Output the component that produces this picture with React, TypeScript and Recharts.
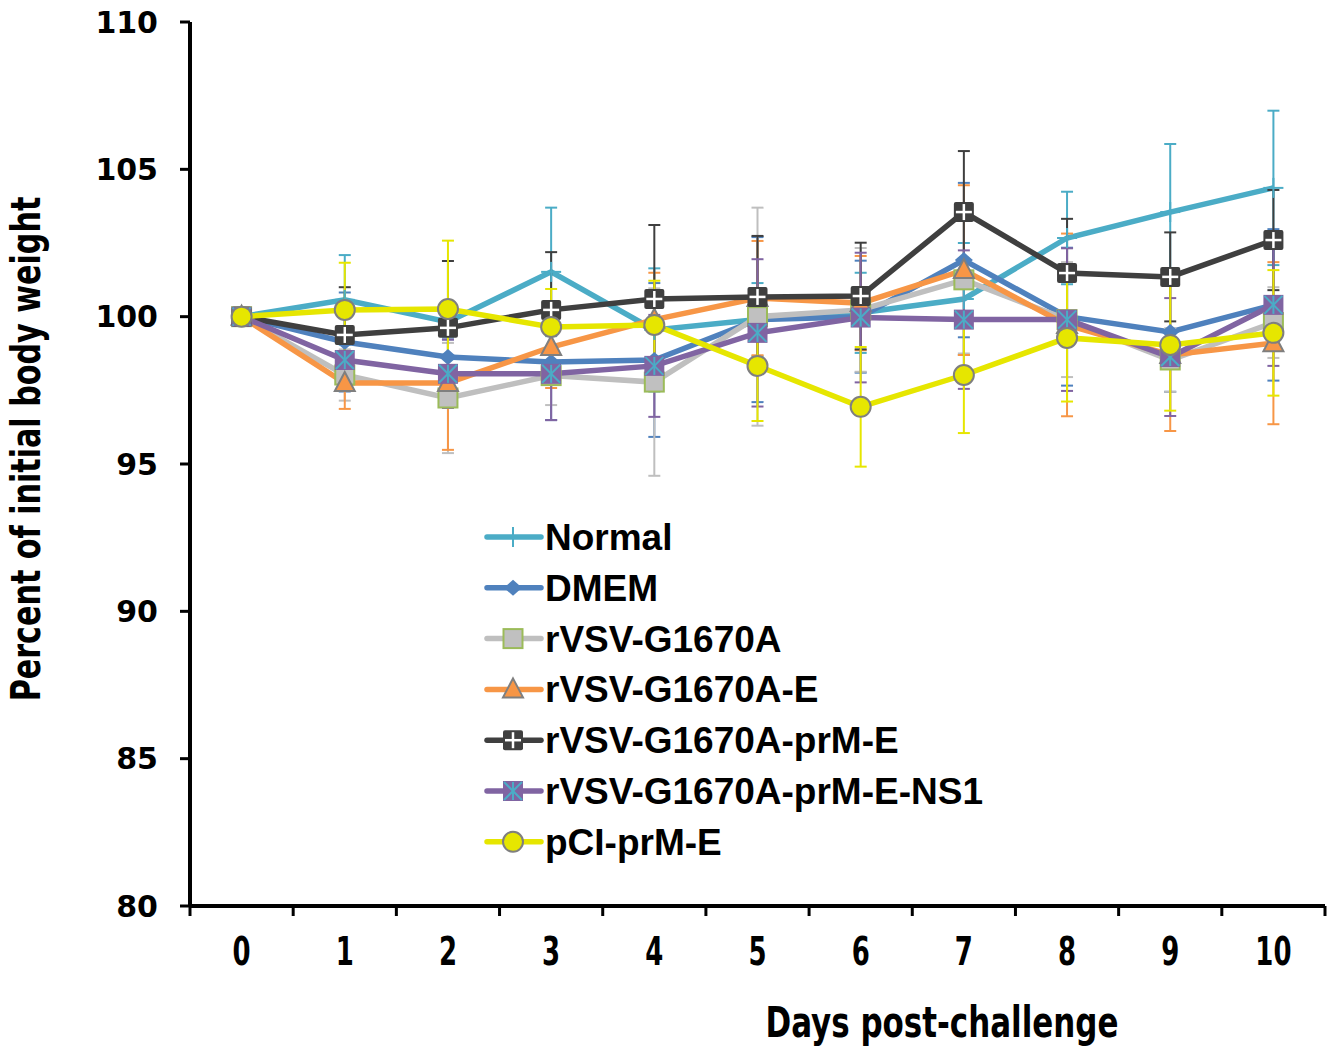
import React from 'react';
import { LineChart, Line, XAxis, YAxis, ErrorBar, Legend } from 'recharts';

const days = [0, 1, 2, 3, 4, 5, 6, 7, 8, 9, 10];
const xTicks = [-0.5, 0, 0.5, 1, 1.5, 2, 2.5, 3, 3.5, 4, 4.5, 5, 5.5, 6, 6.5, 7, 7.5, 8, 8.5, 9, 9.5, 10, 10.5];
const yTicks = [80, 85, 90, 95, 100, 105, 110];

const normal = [100, 100.57, 99.82, 101.52, 99.55, 99.9, 100.13, 100.6, 102.67, 103.55, 104.37];
const normalErr = [0, 1.52, 0.5, 2.18, 2.09, 1.24, 1.36, 1.9, 1.57, 2.31, 2.62];
const dmem = [100, 99.14, 98.63, 98.46, 98.53, 99.9, 100, 101.92, 100, 99.48, 100.4];
const dmemErr = [0, 1.68, 0.6, 1.97, 2.61, 2.8, 1.9, 2.62, 2.34, 2.03, 2.57];
const g1670a = [100, 98.02, 97.24, 98.0, 97.78, 100, 100.23, 101.25, 99.9, 98.53, 99.8];
const g1670aErr = [0, 0.87, 1.87, 1.0, 3.18, 3.7, 2.1, 2.5, 1.95, 1.08, 1.2];
const g1670aE = [100, 97.75, 97.75, 98.97, 99.9, 100.63, 100.46, 101.58, 99.72, 98.7, 99.1];
const g1670aEErr = [0, 0.88, 2.27, 1.39, 1.59, 1.94, 1.6, 2.88, 3.1, 2.58, 2.75];
const g1670aPrmE = [100, 99.38, 99.62, 100.23, 100.6, 100.67, 100.7, 103.55, 101.48, 101.35, 102.6];
const g1670aPrmEErr = [0, 1.62, 2.27, 1.96, 2.51, 2.07, 1.81, 2.07, 1.84, 1.51, 1.7];
const g1670aNs1 = [100, 98.53, 98.06, 98.06, 98.33, 99.45, 99.97, 99.9, 99.9, 98.63, 100.4];
const g1670aNs1Err = [0, 0.6, 1.16, 1.57, 1.73, 2.5, 2.2, 2.35, 2.42, 2.0, 2.07];
const pci = [100, 100.23, 100.26, 99.65, 99.72, 98.33, 96.94, 98.02, 99.28, 99.04, 99.45];
const pciErr = [0, 1.6, 2.32, 1.29, 1.5, 1.87, 2.03, 1.97, 2.16, 2.23, 2.13];

const data = days.map((day, i) => ({
  day,
  normal: normal[i], normalErr: normalErr[i],
  dmem: dmem[i], dmemErr: dmemErr[i],
  g1670a: g1670a[i], g1670aErr: g1670aErr[i],
  g1670aE: g1670aE[i], g1670aEErr: g1670aEErr[i],
  g1670aPrmE: g1670aPrmE[i], g1670aPrmEErr: g1670aPrmEErr[i],
  g1670aNs1: g1670aNs1[i], g1670aNs1Err: g1670aNs1Err[i],
  pci: pci[i], pciErr: pciErr[i],
}));

type Shape = 'plus' | 'diamond' | 'square' | 'triangle' | 'plusSquare' | 'starSquare' | 'circle';

const series: { key: string; name: string; color: string; shape: Shape }[] = [
  { key: 'normal', name: 'Normal', color: '#4BACC6', shape: 'plus' },
  { key: 'dmem', name: 'DMEM', color: '#4F81BD', shape: 'diamond' },
  { key: 'g1670a', name: 'rVSV-G1670A', color: '#BFBFBF', shape: 'square' },
  { key: 'g1670aE', name: 'rVSV-G1670A-E', color: '#F79646', shape: 'triangle' },
  { key: 'g1670aPrmE', name: 'rVSV-G1670A-prM-E', color: '#3F3F3F', shape: 'plusSquare' },
  { key: 'g1670aNs1', name: 'rVSV-G1670A-prM-E-NS1', color: '#8064A2', shape: 'starSquare' },
  { key: 'pci', name: 'pCI-prM-E', color: '#E6E600', shape: 'circle' },
];

const Marker = ({ shape, cx, cy, color }: { shape: Shape; cx: number; cy: number; color: string }) => {
  const h = 10;
  switch (shape) {
    case 'plus':
      return (
        <g>
          <line x1={cx - h} y1={cy} x2={cx + h} y2={cy} stroke={color} strokeWidth={2} />
          <line x1={cx} y1={cy - h} x2={cx} y2={cy + h} stroke={color} strokeWidth={2} />
        </g>
      );
    case 'diamond':
      return <polygon points={`${cx},${cy - 8} ${cx + 9},${cy} ${cx},${cy + 8} ${cx - 9},${cy}`} fill={color} />;
    case 'square':
      return <rect x={cx - 9.5} y={cy - 9.5} width={19} height={19} fill="#C0C0C0" stroke="#9BBB59" strokeWidth={2} />;
    case 'triangle':
      return (
        <polygon
          points={`${cx},${cy - 11} ${cx + 10},${cy + 8} ${cx - 10},${cy + 8}`}
          fill={color}
          stroke="#7F7F7F"
          strokeWidth={2}
        />
      );
    case 'plusSquare':
      return (
        <g>
          <rect x={cx - 10} y={cy - 10} width={20} height={20} rx={2} fill={color} />
          <line x1={cx - 8} y1={cy} x2={cx + 8} y2={cy} stroke="#fff" strokeWidth={2.5} />
          <line x1={cx} y1={cy - 8} x2={cx} y2={cy + 8} stroke="#fff" strokeWidth={2.5} />
        </g>
      );
    case 'starSquare':
      return (
        <g>
          <rect x={cx - 10} y={cy - 10} width={20} height={20} fill={color} />
          <line x1={cx - 9} y1={cy - 9} x2={cx + 9} y2={cy + 9} stroke="#4BACC6" strokeWidth={2} />
          <line x1={cx - 9} y1={cy + 9} x2={cx + 9} y2={cy - 9} stroke="#4BACC6" strokeWidth={2} />
          <line x1={cx} y1={cy - 9} x2={cx} y2={cy + 9} stroke="#4BACC6" strokeWidth={2} />
        </g>
      );
    default:
      return <circle cx={cx} cy={cy} r={10} fill={color} stroke="#7F7F7F" strokeWidth={2} />;
  }
};

const narrow = '"Liberation Sans Narrow", "Arial Narrow", "DejaVu Sans Condensed", sans-serif';

const DayTick = (props: any) => {
  const { x, y, payload } = props;
  const v = payload.value;
  if (Number.isInteger(v)) {
    return (
      <text
        transform={`translate(${x} ${y + 59}) scale(0.76 1.04)`}
        textAnchor="middle"
        fontFamily={narrow}
        fontWeight="bold"
        fontSize={38}
        fill="#000"
      >
        {v}
      </text>
    );
  }
  return <line x1={x} y1={y} x2={x} y2={y + 10} stroke="#000" strokeWidth={3} />;
};

const renderLegend = () => (
  <svg width={560} height={360}>
    {series.map((s, i) => {
      const cy = 25 + i * 50.8;
      return (
        <g key={s.key}>
          <line x1={8} y1={cy} x2={62} y2={cy} stroke={s.color} strokeWidth={5.5} strokeLinecap="round" />
          <Marker shape={s.shape} cx={34} cy={cy} color={s.color} />
          <text x={66} y={cy + 13} fontFamily='"Liberation Sans", Arial, sans-serif' fontWeight="bold" fontSize={37} fill="#000">
            {s.name}
          </text>
        </g>
      );
    })}
  </svg>
);

export default function App() {
  return (
    <div style={{ position: 'absolute', left: 0, top: 0, background: '#fff' }}>
      <LineChart width={1336} height={1047} data={data} margin={{ top: 22, right: 11, left: 80, bottom: 0 }}>
        <XAxis
          dataKey="day"
          type="number"
          domain={[-0.5, 10.5]}
          ticks={xTicks}
          interval={0}
          tick={DayTick}
          tickLine={false}
          tickSize={0}
          tickMargin={0}
          height={141}
          axisLine={{ stroke: '#000', strokeWidth: 4 }}
          label={() => (
            <text
              transform="translate(942 1037) scale(0.86 1.05)"
              textAnchor="middle"
              fontFamily={narrow}
              fontWeight="bold"
              fontSize={40}
              fill="#000"
            >
              Days post-challenge
            </text>
          )}
        />
        <YAxis
          type="number"
          domain={[80, 110]}
          ticks={yTicks}
          interval={0}
          width={110}
          tickSize={10}
          tickMargin={22}
          axisLine={{ stroke: '#000', strokeWidth: 4 }}
          tickLine={{ stroke: '#000', strokeWidth: 3 }}
          tick={{ fill: '#000', fontFamily: '"DejaVu Sans", sans-serif', fontWeight: 'bold', fontSize: 30 }}
          label={() => (
            <text
              transform="translate(26 449) rotate(-90) scale(0.86 1.05)"
              textAnchor="middle"
              dominantBaseline="central"
              fontFamily={narrow}
              fontWeight="bold"
              fontSize={39}
              fill="#000"
            >
              Percent of initial body weight
            </text>
          )}
        />
        <Legend
          layout="vertical"
          align="center"
          verticalAlign="middle"
          content={renderLegend}
          wrapperStyle={{ left: 479, top: 512, width: 560, height: 360 }}
        />
        {series.map((s) => (
          <Line
            key={s.key}
            dataKey={s.key}
            name={s.name}
            type="linear"
            stroke={s.color}
            strokeWidth={5.5}
            isAnimationActive={false}
            activeDot={false}
            dot={(p: any) => <Marker key={`${s.key}-${p.index}`} shape={s.shape} cx={p.cx} cy={p.cy} color={s.color} />}
          >
            <ErrorBar dataKey={`${s.key}Err`} direction="y" width={6} stroke={s.color} strokeWidth={2} isAnimationActive={false} />
          </Line>
        ))}
      </LineChart>
    </div>
  );
}
